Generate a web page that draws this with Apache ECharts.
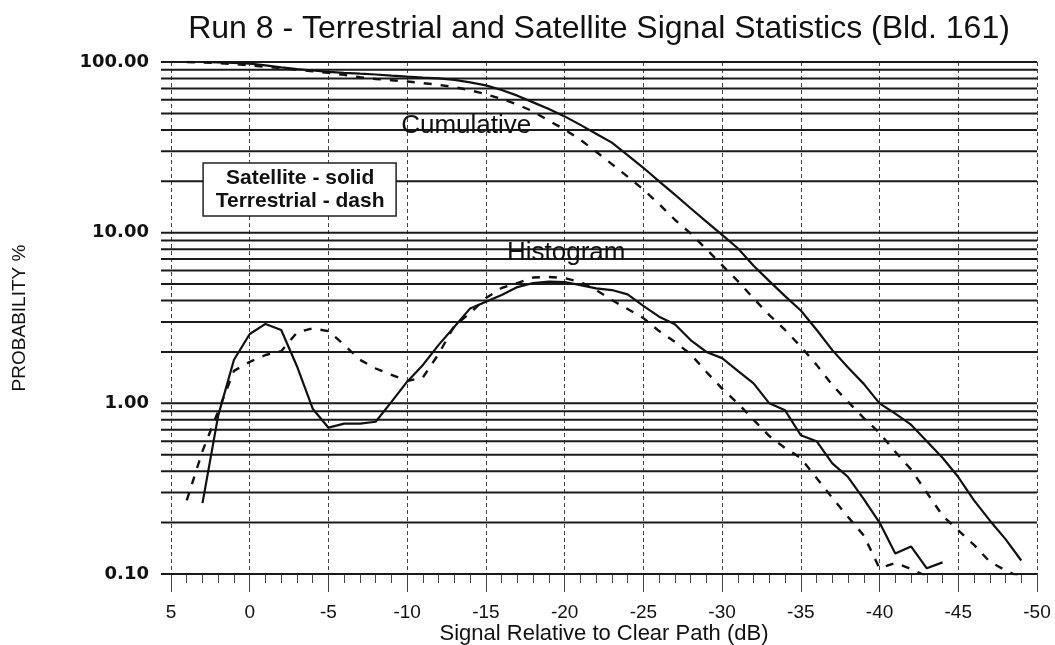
<!DOCTYPE html>
<html>
<head>
<meta charset="utf-8">
<title>Run 8 - signal statistics</title>
<script src="https://cdn.jsdelivr.net/npm/echarts@6/dist/echarts.min.js"></script>
<style>html,body{margin:0;padding:0;background:#fff;}</style>
</head>
<body>
<div id="main" style="width:1055px;height:645px;"></div>
<script type="text/javascript">
// signal relative to clear path, dB (one row per 1 dB step)
var dbSteps = [4, 3, 2, 1, 0, -1, -2, -3, -4, -5,
    -6, -7, -8, -9, -10, -11, -12, -13, -14, -15,
    -16, -17, -18, -19, -20, -21, -22, -23, -24, -25,
    -26, -27, -28, -29, -30, -31, -32, -33, -34, -35,
    -36, -37, -38, -39, -40, -41, -42, -43, -44, -45,
    -46, -47, -48, -49, -50];

// probability % (null = no point)
var satHist = [null, 0.26, 0.85, 1.8, 2.55, 2.92, 2.69, 1.65, 0.93, 0.72,
    0.76, 0.76, 0.78, 1.02, 1.34, 1.68, 2.2, 2.81, 3.6, 3.94,
    4.31, 4.8, 5.07, 5.16, 5.14, 4.93, 4.72, 4.61, 4.35, 3.72,
    3.22, 2.91, 2.35, 2.0, 1.84, 1.55, 1.31, 1.0, 0.91, 0.65,
    0.6, 0.445, 0.37, 0.275, 0.2, 0.132, 0.145, 0.108, 0.117, null,
    null, null, null, null, null];

var terrHist = [0.27, 0.525, 0.9, 1.55, 1.75, 1.92, 2.02, 2.6, 2.75, 2.65,
    2.2, 1.8, 1.6, 1.47, 1.35, 1.42, 1.95, 2.85, 3.38, 4.14,
    4.74, 5.07, 5.46, 5.5, 5.42, 5.14, 4.61, 4.03, 3.57, 3.16,
    2.65, 2.29, 1.94, 1.53, 1.22, 1.0, 0.8, 0.643, 0.547, 0.478,
    0.365, 0.279, 0.216, 0.168, 0.108, 0.116, 0.107, 0.097, null, null,
    null, null, null, null, null];

var satCum = [null, 100, 99.6, 98.9, 97.8, 95.5, 93, 91, 89.2, 87.6,
    86.4, 85.4, 84.5, 83.2, 82, 81, 80.2, 78.5, 76, 73,
    68.5, 63.5, 58, 53, 48, 42.8, 38, 33.7, 28.5, 24,
    20, 16.7, 13.9, 11.6, 9.7, 8.1, 6.4, 5.2, 4.25, 3.5,
    2.7, 2.05, 1.62, 1.3, 1.0, 0.87, 0.75, 0.6, 0.48, 0.37,
    0.27, 0.206, 0.16, 0.12, null];

var terrCum = [100, 99.5, 98.5, 97.2, 95.5, 93.8, 92, 90, 88.2, 86.5,
    84, 81.5, 79.5, 78.2, 76.8, 75.2, 73.5, 71.2, 68.3, 64.8,
    60.7, 56.4, 51.3, 45.3, 40.2, 35, 29.8, 25.2, 21.3, 17.9,
    14.7, 11.9, 9.9, 8.0, 6.45, 5.2, 4.12, 3.29, 2.69, 2.15,
    1.68, 1.28, 1.02, 0.82, 0.67, 0.52, 0.41, 0.3, 0.22, 0.18,
    0.148, 0.118, 0.105, 0.095, 0.086];

// horizontal rulings of the log paper
var gridPct = [0.1, 0.2, 0.3, 0.4, 0.5, 0.6, 0.7, 0.8, 0.9,
    1, 2, 3, 4, 5, 6, 7, 8, 9,
    10, 20, 30, 40, 50, 60, 70, 80, 90, 100];

var xMin = -50, xMax = 5;
var font = '"Liberation Sans", Arial, sans-serif';

function pairs(values) {
    return dbSteps.map(function (d, i) { return [d, values[i]]; });
}

function curve(name, values, dashed) {
    return {
        name: name,
        type: 'line',
        data: pairs(values),
        symbol: 'none',
        z: 5,
        lineStyle: {
            color: '#111',
            width: dashed ? 2.4 : 2.2,
            type: dashed ? [8, 9] : 'solid'
        }
    };
}

var chart = echarts.init(document.getElementById('main'));

chart.setOption({
    animation: false,
    backgroundColor: '#fff',
    title: {
        text: 'Run 8 - Terrestrial and Satellite Signal Statistics (Bld. 161)',
        left: 594,
        top: 8,
        textAlign: 'center',
        textStyle: { fontFamily: font, fontSize: 32, fontWeight: 'normal', color: '#111' }
    },
    grid: { left: 171, right: 18, top: 62, bottom: 71, outerBoundsMode: 'none', containLabel: false },
    xAxis: {
        type: 'value',
        min: xMin,
        max: xMax,
        interval: 5,
        inverse: true,
        name: 'Signal Relative to Clear Path (dB)',
        nameLocation: 'middle',
        nameGap: 49,
        nameMoveOverlap: false,
        nameTextStyle: { fontFamily: font, fontSize: 22, color: '#111' },
        axisLine: { show: false, onZero: false },
        axisTick: { show: true, length: 18, lineStyle: { color: '#444', width: 1 } },
        minorTick: { show: true, splitNumber: 5, length: 9, lineStyle: { color: '#444', width: 1 } },
        splitLine: { show: true, lineStyle: { color: '#444', width: 1, type: [4, 3] } },
        axisLabel: { margin: 29, fontFamily: font, fontSize: 19, color: '#111' }
    },
    yAxis: {
        type: 'log',
        logBase: 10,
        min: 0.1,
        max: 100,
        name: 'PROBABILITY %',
        nameLocation: 'middle',
        nameRotate: 90,
        nameGap: 142,
        nameMoveOverlap: false,
        nameTextStyle: { fontFamily: font, fontSize: 19, color: '#111' },
        axisLine: { show: false },
        axisTick: { show: false },
        splitLine: { show: false },
        axisLabel: {
            margin: 22,
            fontFamily: '"DejaVu Sans", sans-serif',
            fontWeight: 'bold',
            fontSize: 18,
            color: '#111',
            formatter: function (v) { return Number(v).toFixed(2); }
        }
    },
    series: [
        {
            type: 'custom',
            name: 'rulings',
            silent: true,
            z: 1,
            data: gridPct.map(function (v) { return [xMax, v]; }),
            renderItem: function (params, api) {
                var v = api.value(1);
                var a = api.coord([xMax, v]);
                var b = api.coord([xMin, v]);
                return {
                    type: 'line',
                    shape: { x1: a[0] - 10, y1: a[1], x2: b[0], y2: b[1] },
                    style: { stroke: '#1a1a1a', lineWidth: 2 }
                };
            }
        },
        curve('Satellite cumulative', satCum, false),
        curve('Terrestrial cumulative', terrCum, true),
        curve('Satellite histogram', satHist, false),
        curve('Terrestrial histogram', terrHist, true)
    ]
});

function at(db, pct) {
    return chart.convertToPixel({ gridIndex: 0 }, [db, pct]);
}

var pCum = at(-13.75, 42);
var pHist = at(-20.1, 7.6);
var pKey = at(-3.2, 17.8);

chart.setOption({
    graphic: [
        {
            type: 'text', x: pCum[0], y: pCum[1], z: 100,
            style: { text: 'Cumulative', fontFamily: font, fontSize: 26, fill: '#111', align: 'center', verticalAlign: 'middle' }
        },
        {
            type: 'text', x: pHist[0], y: pHist[1], z: 100,
            style: { text: 'Histogram', fontFamily: font, fontSize: 26, fill: '#111', align: 'center', verticalAlign: 'middle' }
        },
        {
            type: 'group', x: pKey[0], y: pKey[1], z: 100,
            children: [
                {
                    type: 'rect', z: 100,
                    shape: { x: -97, y: -27, width: 193, height: 53 },
                    style: { fill: '#fff', stroke: '#222', lineWidth: 1.5 }
                },
                {
                    type: 'text', z: 101,
                    style: {
                        text: 'Satellite - solid\nTerrestrial - dash',
                        fontFamily: font, fontSize: 21, fontWeight: 'bold', lineHeight: 23,
                        fill: '#111', align: 'center', verticalAlign: 'middle'
                    }
                }
            ]
        }
    ]
});
</script>
</body>
</html>
